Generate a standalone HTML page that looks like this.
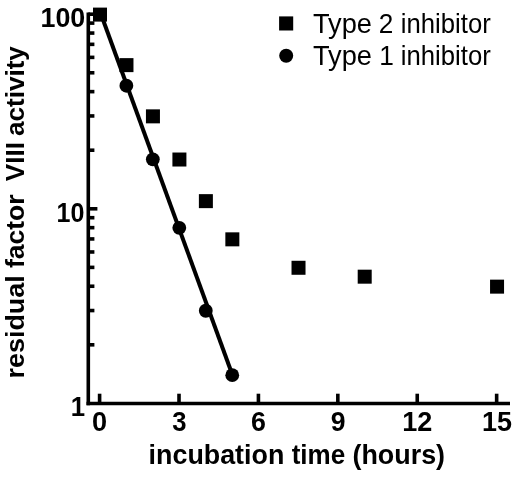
<!DOCTYPE html>
<html><head><meta charset="utf-8"><title>chart</title>
<style>
html,body{margin:0;padding:0;background:#fff}
svg{display:block}
text{font-family:"Liberation Sans",Arial,sans-serif;fill:#000}
.b{font-weight:bold}
</style></head><body>
<svg width="520" height="477" viewBox="0 0 520 477">
<rect width="520" height="477" fill="#fff"/>
<g stroke="#000" stroke-width="3.6" fill="none" stroke-linecap="butt">
<path d="M88.3 12.399999999999999V405.3"/>
<path d="M86.5 403.5H510"/>
<path d="M88.3 344.82h6.1"/>
<path d="M88.3 310.55h6.1"/>
<path d="M88.3 286.24h6.1"/>
<path d="M88.3 267.38h6.1"/>
<path d="M88.3 251.97h6.1"/>
<path d="M88.3 238.94h6.1"/>
<path d="M88.3 227.66h6.1"/>
<path d="M88.3 217.70h6.1"/>
<path d="M88.3 208.80h9.1"/>
<path d="M88.3 150.22h6.1"/>
<path d="M88.3 115.95h6.1"/>
<path d="M88.3 91.64h6.1"/>
<path d="M88.3 72.78h6.1"/>
<path d="M88.3 57.37h6.1"/>
<path d="M88.3 44.34h6.1"/>
<path d="M88.3 33.06h6.1"/>
<path d="M88.3 23.10h6.1"/>
<path d="M88.3 14.20h9.1"/>
<path d="M99.60 403.5v-9.8"/>
<path d="M179.01 403.5v-9.8"/>
<path d="M258.42 403.5v-9.8"/>
<path d="M337.83 403.5v-9.8"/>
<path d="M417.24 403.5v-9.8"/>
<path d="M496.65 403.5v-9.8"/>
</g>
<path d="M101.00 14.20L232.45 374.96" stroke="#000" stroke-width="4" fill="none"/>
<rect x="93.00" y="7.60" width="14" height="14"/>
<rect x="119.47" y="58.13" width="14" height="14"/>
<rect x="145.94" y="109.35" width="14" height="14"/>
<rect x="172.41" y="152.52" width="14" height="14"/>
<rect x="198.88" y="194.14" width="14" height="14"/>
<rect x="225.35" y="232.34" width="14" height="14"/>
<rect x="291.52" y="260.78" width="14" height="14"/>
<rect x="357.70" y="269.68" width="14" height="14"/>
<rect x="490.05" y="279.64" width="14" height="14"/>
<circle cx="126.37" cy="85.73" r="6.9"/>
<circle cx="152.84" cy="159.32" r="6.9"/>
<circle cx="179.31" cy="227.86" r="6.9"/>
<circle cx="205.78" cy="310.75" r="6.9"/>
<circle cx="232.25" cy="375.16" r="6.9"/>
<rect x="279.1" y="16.4" width="14.1" height="14.1"/>
<circle cx="286.2" cy="55.7" r="7"/>
<text class="r" font-size="27.2" y="32.6"><tspan x="312.97" textLength="58.95" lengthAdjust="spacingAndGlyphs">Type</tspan> <tspan x="378.69" textLength="14.55" lengthAdjust="spacingAndGlyphs">2</tspan> <tspan x="400.83" textLength="89.91" lengthAdjust="spacingAndGlyphs">inhibitor</tspan></text>
<text class="r" font-size="27.2" y="64.9"><tspan x="312.97" textLength="58.95" lengthAdjust="spacingAndGlyphs">Type</tspan> <tspan x="379.23" textLength="14.62" lengthAdjust="spacingAndGlyphs">1</tspan> <tspan x="400.83" textLength="89.91" lengthAdjust="spacingAndGlyphs">inhibitor</tspan></text>
<text class="b" font-size="27.6" y="26.7"><tspan x="40.46" textLength="44.78" lengthAdjust="spacingAndGlyphs">100</tspan></text>
<text class="b" font-size="27.6" y="221.5"><tspan x="56.57" textLength="27.89" lengthAdjust="spacingAndGlyphs">10</tspan></text>
<text class="b" font-size="27.6" y="415.5"><tspan x="70.82" textLength="14.35" lengthAdjust="spacingAndGlyphs">1</tspan></text>
<text class="b" font-size="27.6" y="431.1"><tspan x="92.01" textLength="15.11" lengthAdjust="spacingAndGlyphs">0</tspan></text>
<text class="b" font-size="27.6" y="431.1"><tspan x="172.26" textLength="14.27" lengthAdjust="spacingAndGlyphs">3</tspan></text>
<text class="b" font-size="27.6" y="431.1"><tspan x="251.06" textLength="14.91" lengthAdjust="spacingAndGlyphs">6</tspan></text>
<text class="b" font-size="27.6" y="431.1"><tspan x="330.67" textLength="14.79" lengthAdjust="spacingAndGlyphs">9</tspan></text>
<text class="b" font-size="27.6" y="431.1"><tspan x="402.24" textLength="30.10" lengthAdjust="spacingAndGlyphs">12</tspan></text>
<text class="b" font-size="27.6" y="431.1"><tspan x="482.05" textLength="29.99" lengthAdjust="spacingAndGlyphs">15</tspan></text>
<text class="b" font-size="26.9" y="463.9"><tspan x="148.62" textLength="135.69" lengthAdjust="spacingAndGlyphs">incubation</tspan> <tspan x="291.64" textLength="53.50" lengthAdjust="spacingAndGlyphs">time</tspan> <tspan x="352.46" textLength="92.61" lengthAdjust="spacingAndGlyphs">(hours)</tspan></text>
<text class="b" font-size="26.6" y="24.2" transform="rotate(-90)"><tspan x="-378.55" textLength="103.34" lengthAdjust="spacingAndGlyphs">residual</tspan> <tspan x="-268.10" textLength="73.65" lengthAdjust="spacingAndGlyphs">factor</tspan> <tspan x="-181.16" textLength="39.07" lengthAdjust="spacingAndGlyphs">VIII</tspan> <tspan x="-136.08" textLength="89.95" lengthAdjust="spacingAndGlyphs">activity</tspan></text>
</svg></body></html>
